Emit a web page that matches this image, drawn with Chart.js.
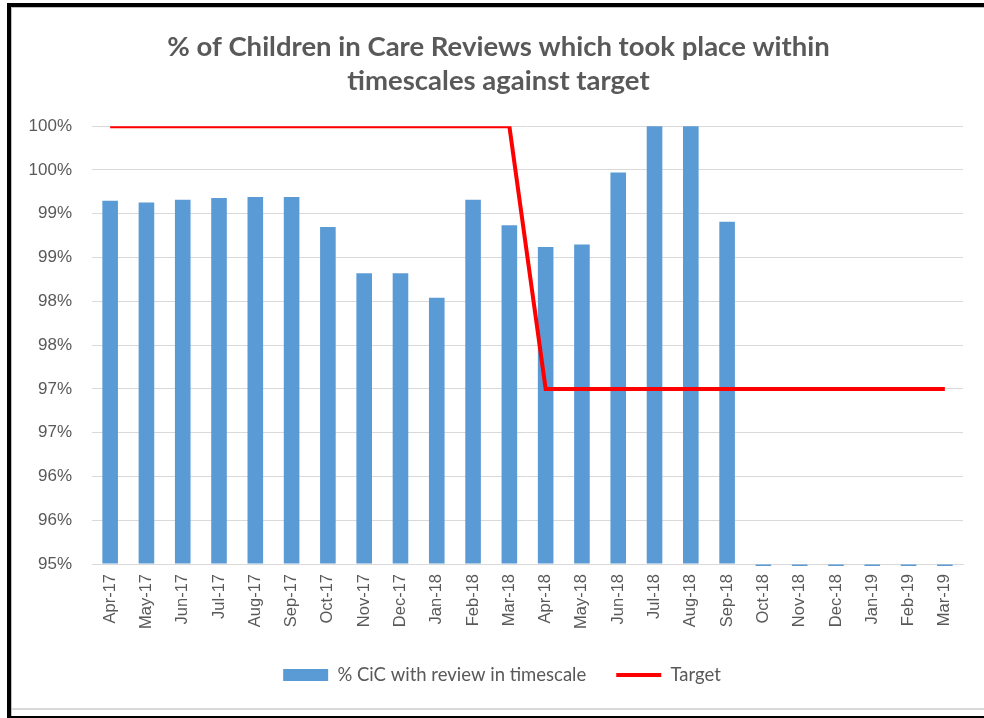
<!DOCTYPE html>
<html>
<head>
<meta charset="utf-8">
<script src="https://cdn.jsdelivr.net/npm/chart.js@4"></script>
<style>
  html, body { margin: 0; padding: 0; background: #ffffff; }
  body { width: 984px; height: 718px; position: relative; overflow: hidden; }
  .f { position: absolute; }
  #wrap { position: absolute; left: 12px; top: 8px; width: 972px; height: 700px; }
</style>
</head>
<body>
<div class="f" style="left:7px;top:3px;width:977px;height:4px;background:#000;"></div>
<div class="f" style="left:7px;top:3px;width:4px;height:715px;background:#000;"></div>
<div class="f" style="left:11px;top:7px;width:973px;height:1px;background:#bfbfbf;"></div>
<div class="f" style="left:11px;top:7px;width:1px;height:711px;background:#bfbfbf;"></div>
<div class="f" style="left:12px;top:708px;width:972px;height:2px;background:#d9d9d9;"></div>
<div class="f" style="left:11px;top:716px;width:973px;height:2px;background:#000;"></div>
<div id="wrap"><canvas id="c"></canvas></div>
<script>
const categories = ["Apr-17","May-17","Jun-17","Jul-17","Aug-17","Sep-17","Oct-17","Nov-17","Dec-17","Jan-18","Feb-18","Mar-18","Apr-18","May-18","Jun-18","Jul-18","Aug-18","Sep-18","Oct-18","Nov-18","Dec-18","Jan-19","Feb-19","Mar-19"];
const reviewPct = [99.15,99.13,99.16,99.18,99.19,99.19,98.85,98.32,98.32,98.04,99.16,98.87,98.62,98.65,99.47,100,100,98.91,0,0,0,0,0,0];
const targetPct = [100,100,100,100,100,100,100,100,100,100,100,100,97,97,97,97,97,97,97,97,97,97,97,97];
const titleLines = ["% of Children in Care Reviews which took place within","timescales against target"];
const seriesNames = ["% CiC with review in timescale","Target"];
const yMin = 95, yMax = 100, yStep = 0.5;

const textColor = "#595959";

const blockShift = {
  id: "blockShift",
  afterLayout(chart) {
    if (chart.legend) chart.legend.left += 29;
    if (chart.titleBlock) chart.titleBlock.left += 22;
  }
};

new Chart(document.getElementById("c"), {
  type: "bar",
  data: {
    labels: categories,
    datasets: [
      {
        type: "bar",
        label: seriesNames[0],
        data: reviewPct,
        base: yMin,
        backgroundColor: "#5b9bd5",
        borderWidth: 0,
        barPercentage: 0.43,
        categoryPercentage: 1.0,
        order: 2,
        clip: {left: 5, top: 5, right: 5, bottom: 2},
        pointStyle: "rect"
      },
      {
        type: "line",
        label: seriesNames[1],
        data: targetPct,
        borderColor: "#ff0000",
        backgroundColor: "#ff0000",
        borderWidth: 4,
        pointRadius: 0,
        tension: 0,
        fill: false,
        order: 1,
        pointStyle: "line"
      }
    ]
  },
  plugins: [blockShift],
  options: {
    responsive: true,
    maintainAspectRatio: false,
    animation: false,
    layout: { padding: { left: 0, right: 21, top: 0, bottom: 13.75 } },
    plugins: {
      tooltip: { enabled: false },
      title: {
        display: true,
        text: titleLines,
        color: textColor,
        font: { family: "Lato", size: 27.5, weight: "bold", lineHeight: 1.24 },
        padding: { top: 22, bottom: 28 }
      },
      legend: {
        position: "bottom",
        labels: {
          usePointStyle: true,
          pointStyleWidth: 45,
          boxHeight: 12,
          padding: 30,
          color: textColor,
          font: { family: "Lato", size: 18.5 },
          generateLabels: (chart) => {
            const items = Chart.defaults.plugins.legend.labels.generateLabels(chart);
            return items.sort((a, b) => seriesNames.indexOf(a.text) - seriesNames.indexOf(b.text));
          }
        }
      }
    },
    scales: {
      x: {
        grid: { display: false, drawTicks: false },
        border: { display: true, color: "#d9d9d9", width: 1 },
        ticks: {
          color: textColor,
          font: { family: "Liberation Sans", size: 16.5 },
          minRotation: 90, maxRotation: 90,
          padding: 10,
          autoSkip: false
        },
        afterFit: (s) => { s.height = 71.75; }
      },
      y: {
        min: yMin, max: yMax,
        grid: { color: "#d9d9d9", lineWidth: 1, drawTicks: false },
        border: { display: false },
        ticks: {
          stepSize: yStep,
          color: textColor,
          font: { family: "Liberation Sans", size: 17 },
          padding: 20,
          callback: (v) => Math.round(v) + "%"
        },
        afterFit: (s) => { s.width = 80; }
      }
    }
  }
});
</script>
</body>
</html>
